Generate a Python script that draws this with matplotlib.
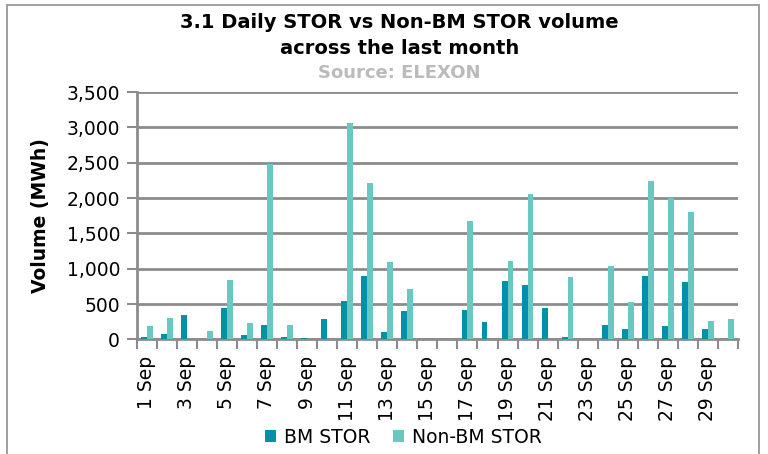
import numpy as np
import matplotlib
matplotlib.use('Agg')
import matplotlib.pyplot as plt
from matplotlib.patches import Rectangle

days = list(range(1, 31))
labels = ['{} Sep'.format(d) if d % 2 == 1 else '' for d in days]

bm_stor = [28, 75, 343, 0, 438, 56, 198, 28, 18, 282,
           541, 890, 103, 395, 0, 0, 409, 240, 819, 767,
           447, 32, 0, 198, 141, 894, 188, 809, 145, 10]
non_bm_stor = [195, 300, 0, 122, 837, 230, 2485, 206, 0, 0,
               3064, 2217, 1092, 710, 0, 0, 1680, 0, 1115, 2056,
               0, 880, 0, 1035, 522, 2240, 2000, 1807, 263, 282]

BM_COL = '#0090A8'
NBM_COL = '#68C9C2'
GRID = '#8C8C8C'

fig = plt.figure(figsize=(7.68, 4.54), dpi=100)
ax = fig.add_axes([0.178, 0.2526, 0.783, 0.5444])

x = np.arange(len(days))
w = 0.29
ax.bar(x - w / 2, bm_stor, w, color=BM_COL, label='BM STOR', zorder=3)
ax.bar(x + w / 2, non_bm_stor, w, color=NBM_COL, label='Non-BM STOR', zorder=3)

ax.set_xlim(-0.5, len(days) - 0.5)
ax.set_ylim(0, 3500)
ax.set_yticks(range(0, 3501, 500))
ax.set_yticklabels(['{:,}'.format(v) for v in range(0, 3501, 500)], fontsize=13.5)
ax.yaxis.grid(True, color=GRID, lw=2, zorder=0)
ax.tick_params(axis='y', length=7, width=1.5, color=GRID, pad=5)

# boundaries get tick marks, centres get the labels
ax.set_xticks(np.arange(-0.5, len(days)), minor=True)
ax.set_xticks(x)
ax.set_xticklabels(labels, rotation=90, fontsize=13.5)
ax.tick_params(axis='x', which='major', length=0, pad=12)
ax.tick_params(axis='x', which='minor', length=7, width=1.5, color=GRID)

for s in ['top', 'right']:
    ax.spines[s].set_visible(False)
for s in ['left', 'bottom']:
    ax.spines[s].set_color(GRID)
    ax.spines[s].set_linewidth(2)

ax.set_ylabel('Volume (MWh)', fontsize=13.5, fontweight='bold', labelpad=12)

fig.text(0.52, 0.9515, '3.1 Daily STOR vs Non-BM STOR volume',
         ha='center', va='center', fontsize=14, fontweight='bold')
fig.text(0.52, 0.894, 'across the last month',
         ha='center', va='center', fontsize=14, fontweight='bold')
fig.text(0.52, 0.839, 'Source: ELEXON', ha='center', va='center',
         fontsize=13, fontweight='bold', color='#BBBBBB')

fig.legend(loc='center', bbox_to_anchor=(0.525, 0.037), ncol=2, frameon=False,
           fontsize=13.5, handlelength=0.6, handleheight=0.6, handletextpad=0.4,
           columnspacing=1.2)

fig.patches.append(Rectangle((0.009, -0.1), 0.979, 1.089, transform=fig.transFigure,
                             fill=False, ec='#999999', lw=1.3))

fig.savefig('out.png', dpi=100)
